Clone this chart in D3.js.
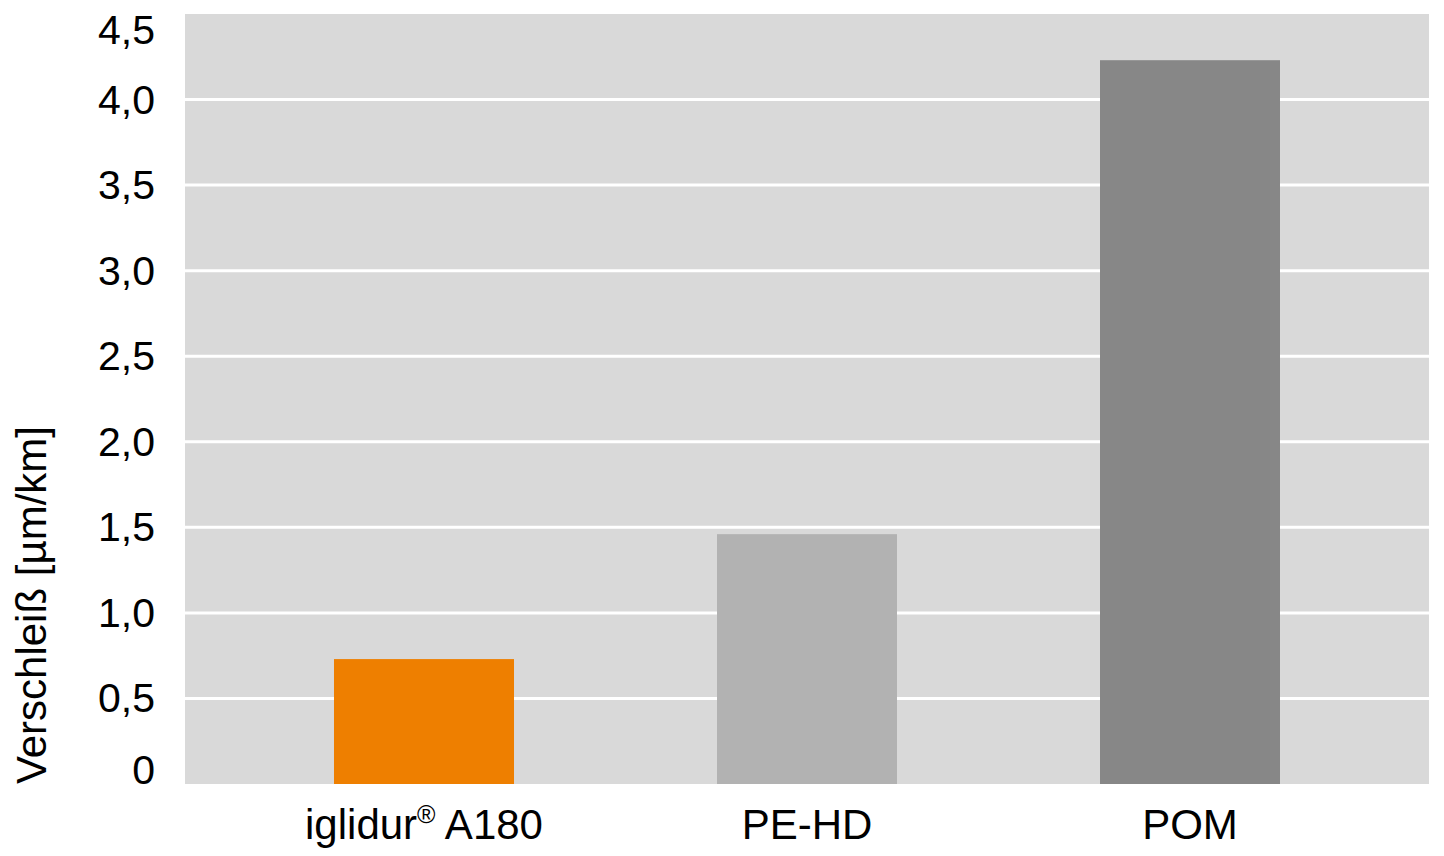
<!DOCTYPE html>
<html>
<head>
<meta charset="utf-8">
<script src="https://cdn.jsdelivr.net/npm/d3@7"></script>
<style>
  html, body { margin: 0; padding: 0; background: #ffffff; }
  svg { display: block; }
  text { font-family: "Liberation Sans", Arial, Helvetica, sans-serif; fill: #000; }
</style>
</head>
<body>
<svg id="chart" width="1444" height="856"></svg>
<script>
const categories = ["iglidur® A180", "PE-HD", "POM"];
const values = [0.73, 1.46, 4.23];
const barColors = ["#ee7f00", "#b2b2b2", "#878787"];
const yTicks = [0, 0.5, 1.0, 1.5, 2.0, 2.5, 3.0, 3.5, 4.0, 4.5];
const yTickLabels = ["0", "0,5", "1,0", "1,5", "2,0", "2,5", "3,0", "3,5", "4,0", "4,5"];
const yTitle = "Verschleiß [µm/km]";

const svg = d3.select("#chart");
const plot = { left: 185, right: 1429, top: 14, bottom: 784 };

const y = d3.scaleLinear().domain([0, 4.5]).range([plot.bottom, plot.top]);
const x = d3.scaleBand().domain(categories).range([232.5, 1381.5])
  .paddingInner(0.53).paddingOuter(0.265);

// background
svg.append("rect")
  .attr("x", plot.left).attr("y", plot.top)
  .attr("width", plot.right - plot.left).attr("height", plot.bottom - plot.top)
  .attr("fill", "#d9d9d9");

// gridlines
svg.append("g").selectAll("line")
  .data(yTicks.filter(v => v > 0 && v < 4.5))
  .join("line")
  .attr("x1", plot.left).attr("x2", plot.right)
  .attr("y1", d => y(d)).attr("y2", d => y(d))
  .attr("stroke", "#ffffff").attr("stroke-width", 3);

// bars
svg.append("g").selectAll("rect")
  .data(categories)
  .join("rect")
  .attr("x", d => x(d))
  .attr("width", x.bandwidth())
  .attr("y", (d, i) => y(values[i]))
  .attr("height", (d, i) => y(0) - y(values[i]))
  .attr("fill", (d, i) => barColors[i]);

// y tick labels (end labels kept inside plot area)
svg.append("g").selectAll("text")
  .data(yTicks)
  .join("text")
  .attr("x", 155)
  .attr("y", d => Math.min(Math.max(y(d), plot.top + 16), plot.bottom - 14))
  .attr("text-anchor", "end")
  .attr("dominant-baseline", "central")
  .attr("font-size", 41)
  .text((d, i) => yTickLabels[i]);

// x labels
const xl = svg.append("g").selectAll("text")
  .data(categories)
  .join("text")
  .attr("x", d => x(d) + x.bandwidth() / 2)
  .attr("y", 839)
  .attr("text-anchor", "middle")
  .attr("font-size", 42);
xl.each(function(d) {
  const t = d3.select(this);
  if (d.includes("®")) {
    const parts = d.split("®");
    t.append("tspan").text(parts[0]);
    t.append("tspan").attr("font-size", 25).attr("dy", -16).text("®");
    t.append("tspan").attr("dy", 16).text(parts[1]);
  } else {
    t.text(d);
  }
});

// y title
svg.append("text")
  .attr("transform", "translate(31,605) rotate(-90)")
  .attr("text-anchor", "middle")
  .attr("dominant-baseline", "central")
  .attr("font-size", 42)
  .text(yTitle);
</script>
</body>
</html>
